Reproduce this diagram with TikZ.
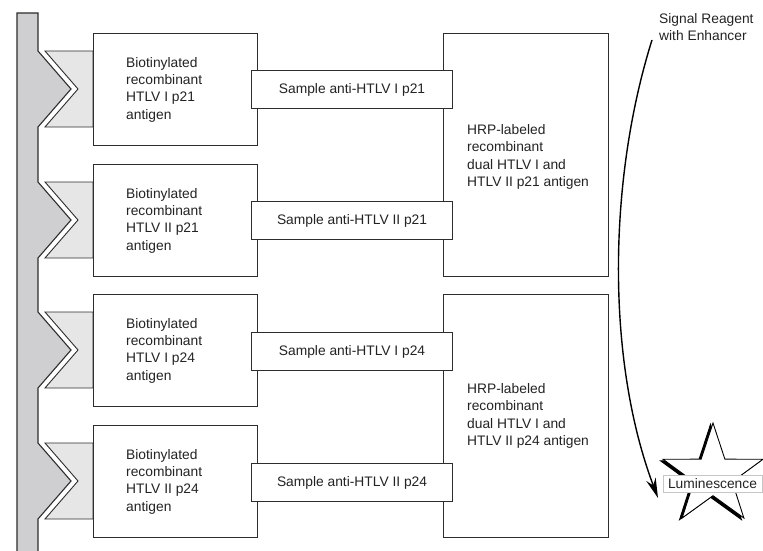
\documentclass[tikz,border=0pt]{standalone}
\usepackage{fontspec}
\setmainfont{Liberation Sans}
\usetikzlibrary{arrows.meta,shapes.geometric}
\definecolor{bargray}{RGB}{207,207,209}
\definecolor{piecegray}{RGB}{230,230,230}
\definecolor{edge}{RGB}{45,45,45}
\definecolor{txt}{RGB}{35,35,35}
\begin{document}
\begin{tikzpicture}[x=1pt,y=-1pt,
  box/.style={draw=edge,line width=1.1pt,fill=white,inner sep=0pt},
  biotbox/.style={box,minimum width=164pt,minimum height=112pt,anchor=north west},
  hrpbox/.style={box,minimum width=165pt,minimum height=243pt,anchor=north west},
  samplebox/.style={box,minimum width=201pt,minimum height=38pt,anchor=north west,
    font=\fontsize{13.8}{17.3}\selectfont,text=txt},
  lbl/.style={font=\fontsize{13.8}{17.3}\selectfont,text=txt,align=left,inner sep=0pt,anchor=west},
  barline/.style={draw=edge,line width=1.1pt},
]
\useasboundingbox (0,0) rectangle (763,551);
% solid support bar
\fill[bargray] (17,560) -- (17,13) -- (38,13)
  \foreach \t in {33,164,294,425} { -- (38,{\t+18}) -- (71,{\t+56}) -- (38,{\t+94}) }
  -- (38,560) -- cycle;
\draw[barline] (17,560) -- (17,13) -- (38,13)
  \foreach \t in {33,164,294,425} { -- (38,{\t+18}) -- (71,{\t+56}) -- (38,{\t+94}) }
  -- (38,560);
% streptavidin pieces
\foreach \t in {33,164,294,425} {
  \filldraw[fill=piecegray,draw=edge,line width=0.9pt]
    (45,{\t+18}) -- (93,{\t+18}) -- (93,{\t+94}) -- (45,{\t+94}) -- (78,{\t+56}) -- cycle;
}
% biotinylated antigen boxes
\node[biotbox] (b1) at (93,33) {};
\node[biotbox] (b2) at (93,164) {};
\node[biotbox] (b3) at (93,294) {};
\node[biotbox] (b4) at (93,425) {};
\node[lbl] (b1t) at ([xshift=33pt]b1.west) {Biotinylated\\recombinant\\HTLV I p21\\antigen};
\node[lbl] (b2t) at ([xshift=33pt]b2.west) {Biotinylated\\recombinant\\HTLV II p21\\antigen};
\node[lbl] (b3t) at ([xshift=33pt]b3.west) {Biotinylated\\recombinant\\HTLV I p24\\antigen};
\node[lbl] (b4t) at ([xshift=33pt]b4.west) {Biotinylated\\recombinant\\HTLV II p24\\antigen};
% HRP-labeled boxes
\node[hrpbox] (h1) at (443,33) {};
\node[hrpbox] (h2) at (443,294) {};
\node[lbl] (h1t) at ([xshift=24pt,yshift=-2pt]h1.west) {HRP-labeled\\recombinant\\dual HTLV I and\\HTLV II p21 antigen};
\node[lbl] (h2t) at ([xshift=24pt]h2.west) {HRP-labeled\\recombinant\\dual HTLV I and\\HTLV II p24 antigen};
% sample antibody boxes
\node[samplebox] (s1) at (251,70) {Sample anti-HTLV I p21};
\node[samplebox] (s2) at (251,201) {Sample anti-HTLV II p21};
\node[samplebox] (s3) at (251,332) {Sample anti-HTLV I p24};
\node[samplebox] (s4) at (251,463) {Sample anti-HTLV II p24};
% signal reagent and luminescence
\node[lbl] (sig) at (659,27) {Signal Reagent\\with Enhancer};
\node[star,star points=5,star point ratio=2.6,minimum size=105pt,inner sep=0pt,
  fill=black,draw=black,line width=1pt] (starsh) at (710.5,477) {};
\node[star,star points=5,star point ratio=2.6,minimum size=105pt,inner sep=0pt,
  fill=white,draw=black,line width=0.9pt] (star) at (713,475.5) {};
\node[draw=gray!45,fill=white,line width=0.6pt,inner xsep=5pt,inner ysep=0pt,
  minimum height=17pt,font=\fontsize{13.8}{17.3}\selectfont,text=txt] (lum) at (712.5,484) {Luminescence};
\coordinate (cs) at (652,40);
\coordinate (ce) at (658,498);
\draw[line width=1.4pt,-{Stealth[length=20pt,width=10pt]}] (cs) .. controls (608,180) and (606,360) .. (ce);
\end{tikzpicture}
\end{document}
